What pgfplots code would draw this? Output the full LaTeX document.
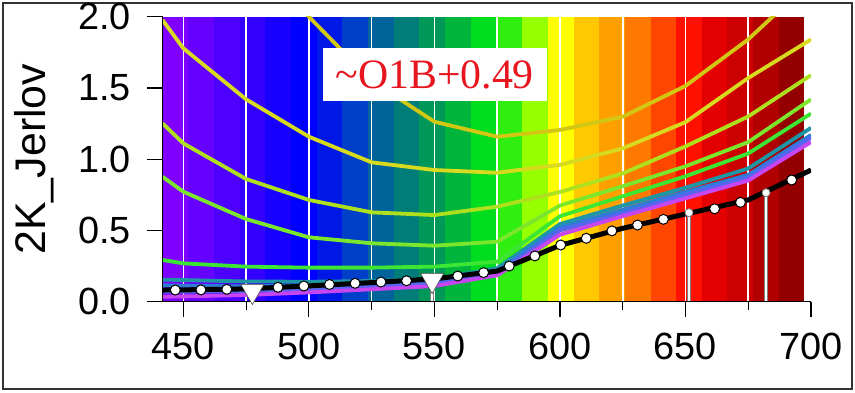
\documentclass[border=0pt]{standalone}
\usepackage{pgfplots}
\pgfplotsset{compat=1.18}
\usepackage{fontspec}
\setmainfont{Liberation Sans}
\newfontfamily\serifface{Liberation Serif}

% spectrum bands
\definecolor{b1}{HTML}{7F00FF}
\definecolor{b2}{HTML}{6600FF}
\definecolor{b3}{HTML}{4E00FF}
\definecolor{b4}{HTML}{3300FF}
\definecolor{b5}{HTML}{1800FF}
\definecolor{b6}{HTML}{0000FF}
\definecolor{b7}{HTML}{0018E6}
\definecolor{b8}{HTML}{0040C8}
\definecolor{b9}{HTML}{00649B}
\definecolor{b10}{HTML}{007D78}
\definecolor{b11}{HTML}{009858}
\definecolor{b12}{HTML}{00B43C}
\definecolor{b13}{HTML}{00DC1E}
\definecolor{b14}{HTML}{30EE10}
\definecolor{b15}{HTML}{96FF00}
\definecolor{b16}{HTML}{FFFF00}
\definecolor{b17}{HTML}{FFC800}
\definecolor{b18}{HTML}{FFA000}
\definecolor{b19}{HTML}{FF7800}
\definecolor{b20}{HTML}{FF4600}
\definecolor{b21}{HTML}{FF1000}
\definecolor{b22}{HTML}{E20000}
\definecolor{b23}{HTML}{CC0000}
\definecolor{b24}{HTML}{B00000}
\definecolor{b25}{HTML}{940000}
% curves
\definecolor{c0}{HTML}{D2C814}
\definecolor{c1}{HTML}{D7DA1E}
\definecolor{c2}{HTML}{AEE01E}
\definecolor{c3}{HTML}{7CE62D}
\definecolor{c4}{HTML}{3CE632}
\definecolor{c5}{HTML}{1E96A5}
\definecolor{c6}{HTML}{2D7DD7}
\definecolor{c7}{HTML}{5A64F0}
\definecolor{c8}{HTML}{C846F0}
\definecolor{boxred}{HTML}{E8141E}
\definecolor{frame}{HTML}{333333}

\newcommand{\band}[3]{\addplot[fill=#3, draw=none] coordinates {(#1,2) (#2,2)} \closedcycle;}

\begin{document}
\begin{tikzpicture}[x=1bp,y=1bp]
\useasboundingbox (0,0) rectangle (855,392);
\draw[line width=1.2bp, color=frame] (3,3) rectangle (852,389);
\begin{axis}[
  at={(162.5bp,90.3bp)}, anchor=south west,
  scale only axis, width=648.5bp, height=285bp,
  xmin=441.7, xmax=700, ymin=0, ymax=2,
  axis lines=left,
  axis line style={-, line width=1.5bp, black},
  axis on top,
  xtick={450,500,...,700},
  minor xtick={475,525,...,675},
  ytick={0,0.5,...,2},
  tick align=outside,
  major tick length=15bp, minor tick length=8bp,
  every tick/.style={black, line width=1.2bp},
  ticklabel style={font=\fontsize{38}{38}\selectfont, inner sep=0pt},
  xticklabel style={anchor=north, yshift=-16bp},
  yticklabel style={anchor=east, xshift=-16.5bp},
  yticklabel={\pgfmathprintnumber[fixed, fixed zerofill, precision=1, assume math mode=true]{\tick}},
  xticklabel={\pgfmathprintnumber[assume math mode=true]{\tick}},
  ylabel={2K\_Jerlov},
  ylabel style={at={(axis description cs:-0.198,0.5)}, anchor=center, font=\fontsize{43}{43}\selectfont},
]
% colour bands of the visible spectrum
\band{441.7}{452.0}{b1}
\band{451.9}{462.3}{b2}
\band{462.2}{472.5}{b3}
\band{472.4}{482.7}{b4}
\band{482.6}{493.0}{b5}
\band{492.9}{503.2}{b6}
\band{503.1}{513.4}{b7}
\band{513.3}{523.6}{b8}
\band{523.5}{533.9}{b9}
\band{533.8}{544.1}{b10}
\band{544.0}{554.3}{b11}
\band{554.2}{564.6}{b12}
\band{564.5}{574.8}{b13}
\band{574.7}{585.0}{b14}
\band{584.9}{595.2}{b15}
\band{595.1}{605.5}{b16}
\band{605.4}{615.7}{b17}
\band{615.6}{625.9}{b18}
\band{625.8}{636.2}{b19}
\band{636.1}{646.4}{b20}
\band{646.3}{656.6}{b21}
\band{656.5}{666.8}{b22}
\band{666.7}{677.1}{b23}
\band{677.0}{687.3}{b24}
\band{687.2}{697.4}{b25}
% white grid lines
\addplot[ycomb, white, line width=1.6bp, mark=none] coordinates {
(450,2) (475,2) (500,2) (525,2) (550,2) (575,2) (600,2) (625,2) (650,2) (675,2) (700,2)};

% Jerlov water-type curves
\addplot[c0, line width=3.8bp] coordinates {
(475,2.55) (500,2.0) (525,1.55) (550,1.263) (575,1.158) (600,1.205) (625,1.298) (650,1.514) (675,1.841) (700,2.25)};
\addplot[c1, line width=3.8bp] coordinates {
(441.7,1.977) (450,1.778) (475,1.42) (500,1.158) (525,0.978) (550,0.924) (575,0.905) (600,0.96) (625,1.076) (650,1.26) (675,1.57) (700,1.84)};
\addplot[c2, line width=3.8bp] coordinates {
(441.7,1.252) (450,1.111) (475,0.861) (500,0.714) (525,0.627) (550,0.608) (575,0.667) (600,0.77) (625,0.90) (650,1.09) (675,1.30) (700,1.59)};
\addplot[c3, line width=3.8bp] coordinates {
(441.7,0.877) (450,0.772) (475,0.58) (500,0.452) (525,0.41) (550,0.393) (575,0.421) (600,0.675) (625,0.81) (650,0.95) (675,1.12) (700,1.42)};
\addplot[c4, line width=3.8bp] coordinates {
(441.7,0.293) (450,0.269) (475,0.246) (500,0.239) (525,0.239) (550,0.246) (575,0.281) (600,0.60) (625,0.74) (650,0.88) (675,1.04) (700,1.32)};
\addplot[c5, line width=3.8bp] coordinates {
(441.7,0.155) (450,0.152) (475,0.142) (500,0.14) (525,0.145) (550,0.16) (575,0.235) (600,0.545) (625,0.675) (650,0.80) (675,0.935) (700,1.22)};
\addplot[c6, line width=3.8bp] coordinates {
(441.7,0.115) (450,0.112) (475,0.108) (500,0.112) (525,0.122) (550,0.14) (575,0.215) (600,0.52) (625,0.645) (650,0.77) (675,0.89) (700,1.17)};
\addplot[c7, line width=3.8bp] coordinates {
(441.7,0.07) (450,0.07) (475,0.075) (500,0.088) (525,0.105) (550,0.125) (575,0.2) (600,0.50) (625,0.62) (650,0.75) (675,0.87) (700,1.15)};
\addplot[c8, line width=3.8bp] coordinates {
(441.7,0.035) (450,0.037) (475,0.047) (500,0.065) (525,0.087) (550,0.11) (575,0.185) (600,0.47) (625,0.60) (650,0.725) (675,0.85) (700,1.12)};

% measured curve
\addplot[black, line width=5bp] coordinates {
(441.7,0.082) (450,0.083) (475,0.090) (500,0.111) (525,0.134) (550,0.160) (575,0.215) (600,0.395) (625,0.515) (650,0.615) (675,0.714) (700,0.924)};

% stems
\addplot[ycomb, gray, line width=4.5bp, mark=none] coordinates {(549.1,0.14) (651.4,0.625) (682.1,0.765)};
\addplot[ycomb, white, line width=2.6bp, mark=*, mark size=4bp,
  mark options={fill=white, draw=gray, line width=0.8bp}] coordinates {(651.4,0.625) (682.1,0.765)};
\addplot[ycomb, white, line width=2.6bp, mark=none] coordinates {(549.1,0.14)};

% sample points
\addplot[only marks, mark=*, mark size=5bp, mark options={fill=white, draw=black, line width=1bp}] coordinates {
(446.8,0.082) (457.0,0.083) (467.3,0.087) (487.7,0.101) (498.0,0.110) (508.2,0.121) (518.4,0.129) (528.7,0.138) (538.9,0.147)
(559.3,0.180) (569.6,0.204) (579.8,0.250) (590.0,0.321) (600.3,0.398) (610.5,0.445) (620.7,0.497) (630.9,0.538) (641.2,0.578)
(661.6,0.652) (671.9,0.697) (692.3,0.854)};
\addplot[only marks, mark=triangle*, mark size=13.5bp, mark options={rotate=180, fill=white, draw=gray!60!black, line width=0.6bp}] coordinates {
(477.5,0.075) (549.1,0.152)};

\node[fill=white, inner sep=0pt, minimum width=224bp, minimum height=53bp, text=boxred,
  font=\serifface\fontsize{42}{42}\selectfont] at (axis cs:550.1,1.591) {\textasciitilde O1B+0.49};
\end{axis}
\end{tikzpicture}
\end{document}
